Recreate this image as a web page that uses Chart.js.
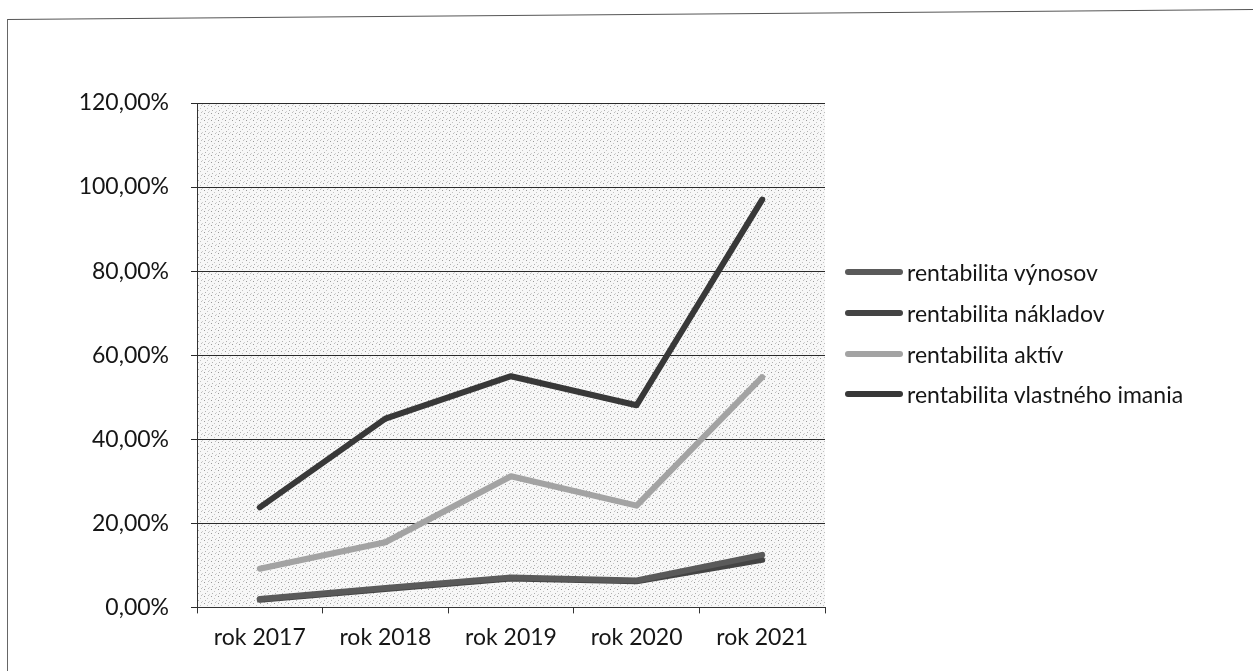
<!DOCTYPE html>
<html>
<head>
<meta charset="utf-8">
<script src="https://cdn.jsdelivr.net/npm/chart.js@4/dist/chart.umd.min.js"></script>
<style>
  html, body { margin: 0; padding: 0; background: #fff; }
  #wrap { position: relative; width: 1253px; height: 671px; overflow: hidden; }
  #frameTop { position: absolute; left: 7px; top: 19px; width: 1300px; height: 0; border-top: 1px solid #555; transform-origin: 0 0; transform: rotate(-0.46deg); }
  #frameLeft { position: absolute; left: 7px; top: 19px; width: 0; height: 660px; border-left: 1px solid #666; }
  canvas { position: absolute; left: 0; top: 0; }
  #legend { position: absolute; left: 0; top: 0; width: 1253px; height: 671px; pointer-events: none; }
  .item { position: absolute; left: 845px; height: 28px; line-height: 28px; white-space: nowrap;
          font-family: Lato, 'Open Sans', sans-serif; font-size: 23px; color: #161616; }
  .swatch { position: absolute; left: 0; top: 11px; width: 58px; height: 6px; border-radius: 3px; }
  .txt { position: absolute; left: 62px; top: 0; }
</style>
</head>
<body>
<div id="wrap">
  <div id="frameTop"></div>
  <div id="frameLeft"></div>
  <canvas id="c" width="1253" height="671"></canvas>
  <div id="legend"></div>
</div>
<script>
const categories = ["rok 2017", "rok 2018", "rok 2019", "rok 2020", "rok 2021"];
const seriesNames = ["rentabilita výnosov", "rentabilita nákladov", "rentabilita aktív", "rentabilita vlastného imania"];
const rentabilitaVynosov = [2.0, 4.6, 7.1, 6.4, 12.5];
const rentabilitaNakladov = [1.8, 4.4, 6.9, 6.2, 11.3];
const rentabilitaAktiv = [9.2, 15.5, 31.2, 24.2, 54.8];
const rentabilitaVlastnehoImania = [23.8, 44.9, 55.0, 48.1, 97.0];
const yTicks = [0, 20, 40, 60, 80, 100, 120];

const colors = ["#5a5a5a", "#444444", "#a3a3a3", "#383838"];
const seriesData = [rentabilitaVynosov, rentabilitaNakladov, rentabilitaAktiv, rentabilitaVlastnehoImania];

function makePattern(ctx) {
  const p = document.createElement('canvas');
  p.width = 7; p.height = 7;
  const g = p.getContext('2d');
  g.fillStyle = '#f7f7f7';
  g.fillRect(0, 0, 7, 7);
  const dots = [[1,1,'#9a9a9a'],[4,3,'#c4c4c4'],[2,5,'#b0b0b0'],[6,6,'#d0d0d0'],[5,0,'#bdbdbd']];
  dots.forEach(d => { g.fillStyle = d[2]; g.fillRect(d[0], d[1], 1, 1); });
  return ctx.createPattern(p, 'repeat');
}

const plotBg = {
  id: 'plotBg',
  beforeDraw(chart) {
    const {ctx, chartArea: a} = chart;
    ctx.save();
    ctx.fillStyle = makePattern(ctx);
    ctx.fillRect(a.left, a.top, a.right - a.left, a.bottom - a.top);
    ctx.restore();
  }
};

const fontFamily = "Lato, 'Open Sans', sans-serif";

const chart = new Chart(document.getElementById('c'), {
  type: 'line',
  data: {
    labels: categories,
    datasets: seriesNames.map((name, i) => ({
      label: name,
      data: seriesData[i],
      borderColor: colors[i],
      backgroundColor: colors[i],
      borderWidth: 6,
      borderCapStyle: 'round',
      borderJoinStyle: 'round',
      pointRadius: 0,
      tension: 0,
      fill: false
    }))
  },
  options: {
    responsive: false,
    animation: false,
    layout: { padding: { top: 103, left: 76, right: 428, bottom: 10 } },
    plugins: {
      tooltip: { enabled: false },
      legend: { display: false }
    },
    scales: {
      x: {
        type: 'category',
        offset: true,
        grid: { display: true, drawOnChartArea: false, drawTicks: true, tickLength: 6, color: '#333', offset: true },
        border: { display: true, color: '#333', width: 1 },
        ticks: { color: '#161616', font: { family: fontFamily, size: 23 }, padding: 10, maxRotation: 0 }
      },
      y: {
        min: 0, max: 120,
        afterBuildTicks(scale) { scale.ticks = yTicks.map(v => ({ value: v })); },
        afterFit(scale) { scale.width = 121; },
        grid: { color: '#2a2a2a', lineWidth: 1, drawTicks: true, tickLength: 6 },
        border: { display: true, color: '#333', width: 1 },
        ticks: {
          color: '#161616',
          font: { family: fontFamily, size: 23 },
          padding: 22,
          callback: v => v.toFixed(2).replace('.', ',') + '%'
        }
      }
    }
  },
  plugins: [plotBg]
});

// legend built from the chart's datasets
const legendCenters = [272, 313, 354, 394];
const legendEl = document.getElementById('legend');
chart.data.datasets.forEach((ds, i) => {
  const item = document.createElement('div');
  item.className = 'item';
  item.style.top = (legendCenters[i] - 14) + 'px';
  const sw = document.createElement('span');
  sw.className = 'swatch';
  sw.style.background = ds.borderColor;
  const tx = document.createElement('span');
  tx.className = 'txt';
  tx.textContent = ds.label;
  item.appendChild(sw);
  item.appendChild(tx);
  legendEl.appendChild(item);
});
</script>
</body>
</html>
